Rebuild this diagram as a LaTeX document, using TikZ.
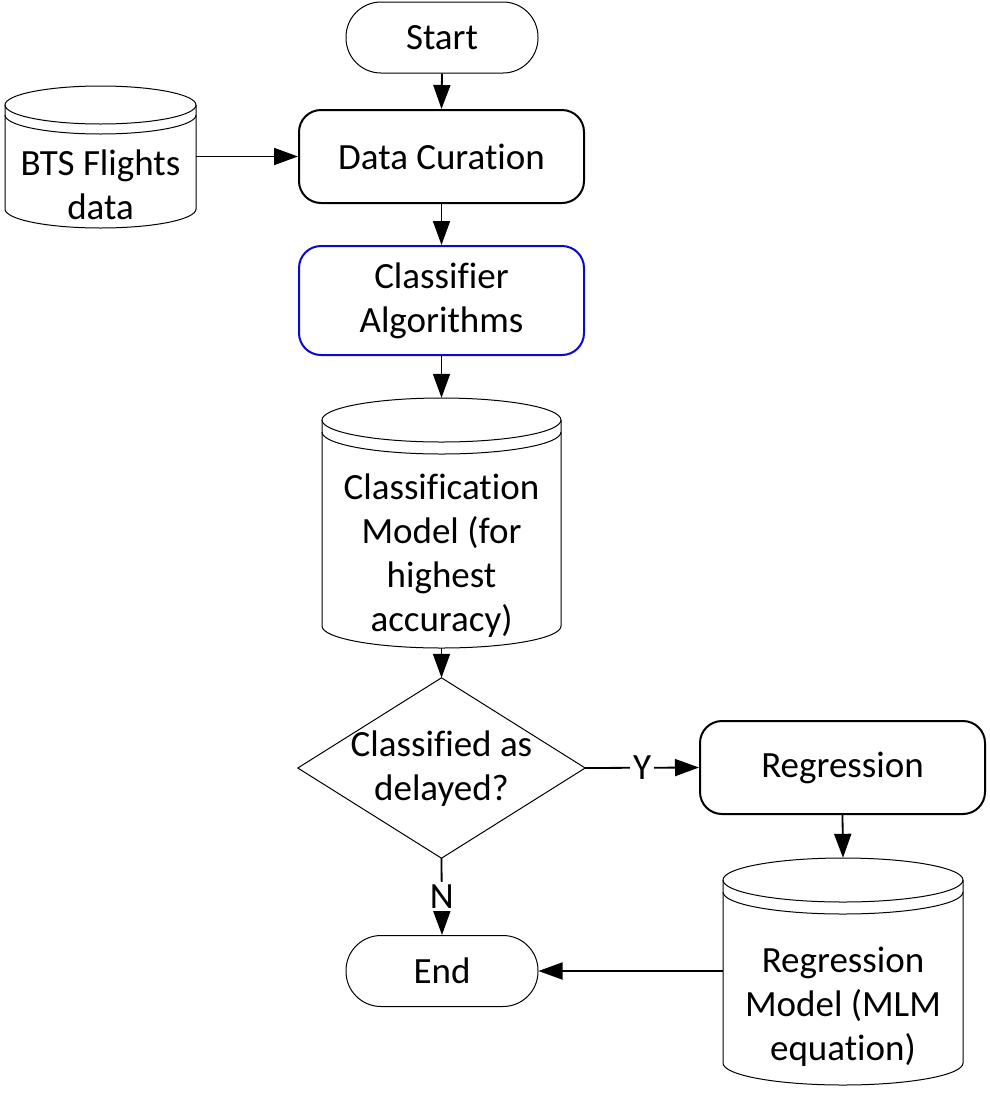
\documentclass[tikz,border=0pt]{standalone}
\usepackage{fontspec}
\setmainfont{Carlito}[Ligatures=NoCommon]
\usetikzlibrary{arrows.meta}
\definecolor{boxblue}{RGB}{10,10,205}
\begin{document}
\begin{tikzpicture}[x=1pt,y=-1pt,
  every node/.style={font=\fontsize{37}{44}\selectfont, align=center, inner sep=0pt},
  term/.style={draw, line width=1pt, rounded corners=35pt, minimum width=192pt, minimum height=71pt},
  proc/.style={draw, line width=2pt, rounded corners=22pt, minimum width=285pt},
  conn/.style={line width=1.8pt, -{Triangle[length=24pt,width=17pt]}},
  shapeline/.style={line width=1pt},
  lbl/.style={fill=white, inner sep=3pt}
]
\fill[white] (0,0) rectangle (989,1093);
\useasboundingbox (0,0) rectangle (989,1093);

% Start / End terminals
\node[term] (start) at (442,37.5) {Start};
\node[term] (end) at (442,971) {End};

% process boxes
\node[proc, minimum height=93pt] (dc) at (441.5,156.5) {Data Curation};
\node[proc, draw=boxblue, minimum height=109pt] (cl) at (441.5,300.5) {Classifier\\Algorithms};
\node[proc, minimum height=93pt] (reg) at (842.5,767.5) {Regression};

% stored-data cylinders (areas for connectors)
\node[minimum width=191pt, minimum height=142pt] (bts) at (100.5,157) {};
\node[minimum width=239pt, minimum height=250pt] (cm) at (441.5,523) {};
\node[minimum width=240pt, minimum height=227pt] (rm) at (843,971.5) {};

% BTS cylinder: L=5 R=196 T=86 B=228 ry=19 d=10
\draw[shapeline] (100.5,105) ellipse [x radius=95.5pt, y radius=19pt];
\draw[shapeline] (5,115) arc[start angle=180, end angle=360, x radius=95.5pt, y radius=19pt];
\draw[shapeline] (5,105) -- (5,209) arc[start angle=180, end angle=360, x radius=95.5pt, y radius=19pt] -- (196,105);
\node (btst) at (100.5,185) {BTS Flights\\data};

% Classification cylinder: L=322 R=561 T=398 B=648 ry=22 d=12
\draw[shapeline] (441.5,420) ellipse [x radius=119.5pt, y radius=22pt];
\draw[shapeline] (322,432) arc[start angle=180, end angle=360, x radius=119.5pt, y radius=22pt];
\draw[shapeline] (322,420) -- (322,626) arc[start angle=180, end angle=360, x radius=119.5pt, y radius=22pt] -- (561,420);
\node (cmt) at (441.5,556) {Classification\\Model (for\\highest\\accuracy)};

% Regression model cylinder: L=723 R=963 T=858 B=1085 ry=22 d=12
\draw[shapeline] (843,880) ellipse [x radius=120pt, y radius=22pt];
\draw[shapeline] (723,892) arc[start angle=180, end angle=360, x radius=120pt, y radius=22pt];
\draw[shapeline] (723,880) -- (723,1063) arc[start angle=180, end angle=360, x radius=120pt, y radius=22pt] -- (963,880);
\node (rmt) at (843,1007) {Regression\\Model (MLM\\equation)};

% decision diamond
\node[minimum width=287pt, minimum height=180pt] (dec) at (441.5,768) {};
\draw[shapeline] (dec.north) -- (dec.east) -- (dec.south) -- (dec.west) -- cycle;
\node (dect) at (441.5,768.5) {Classified as\\delayed?};

% connectors
\draw[conn] (start.south) -- (dc.north);
\draw[conn] (bts.east |- dc.west) -- (dc.west);
\draw[conn] (dc.south) -- (cl.north);
\draw[conn] (cl.south) -- (cm.north);
\draw[conn] (cm.south) -- (dec.north);
\draw[conn] (dec.east) -- node[lbl] (ylab) {Y} (reg.west);
\draw[conn] (reg.south) -- (rm.north);
\draw[conn] (dec.south) -- node[lbl] (nlab) {N} (end.north);
\draw[conn] (rm.west |- end.east) -- (end.east);
\end{tikzpicture}
\end{document}
